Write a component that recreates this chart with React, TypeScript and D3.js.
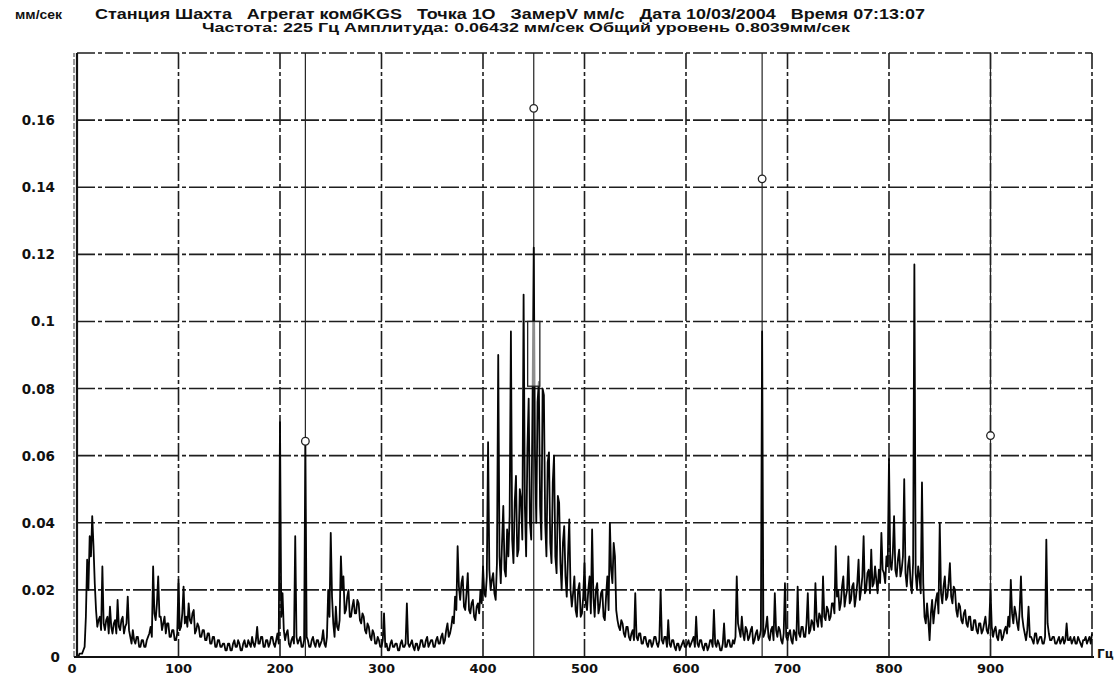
import React from "react";
import * as d3 from "d3";

const WIDTH = 1116;
const HEIGHT = 677;

// Vibration velocity spectrum, mm/s, one line every 1.25 Hz from 0 to 1000 Hz
const freqStep = 1.25;
const amplitudes: number[] = [
  // 0 – 23.75 Hz
  0.000, 0.000, 0.001, 0.001, 0.001, 0.002, 0.003, 0.012, 0.029, 0.020,
  0.036, 0.030, 0.042, 0.033, 0.022, 0.014, 0.009, 0.011, 0.012, 0.008,
  // 25 – 48.75
  0.027, 0.010, 0.008, 0.011, 0.012, 0.007, 0.015, 0.009, 0.007, 0.010,
  0.011, 0.007, 0.017, 0.009, 0.008, 0.011, 0.012, 0.007, 0.009, 0.010,
  // 50 – 73.75
  0.018, 0.008, 0.006, 0.004, 0.008, 0.005, 0.004, 0.006, 0.006, 0.003,
  0.003, 0.005, 0.005, 0.003, 0.003, 0.005, 0.006, 0.007, 0.009, 0.006,
  // 75 – 98.75
  0.027, 0.013, 0.011, 0.016, 0.024, 0.012, 0.012, 0.008, 0.010, 0.012,
  0.007, 0.010, 0.010, 0.006, 0.006, 0.008, 0.008, 0.005, 0.005, 0.007,
  // 100 – 123.75
  0.023, 0.008, 0.009, 0.013, 0.021, 0.010, 0.012, 0.009, 0.016, 0.011,
  0.010, 0.013, 0.014, 0.007, 0.008, 0.010, 0.009, 0.006, 0.006, 0.008,
  // 125 – 148.75
  0.008, 0.005, 0.005, 0.007, 0.007, 0.004, 0.004, 0.006, 0.006, 0.003,
  0.003, 0.005, 0.005, 0.003, 0.003, 0.004, 0.004, 0.002, 0.002, 0.004,
  // 150 – 173.75
  0.004, 0.002, 0.002, 0.004, 0.005, 0.003, 0.003, 0.005, 0.004, 0.002,
  0.002, 0.004, 0.005, 0.003, 0.003, 0.005, 0.004, 0.003, 0.006, 0.004,
  // 175 – 198.75
  0.003, 0.005, 0.009, 0.004, 0.004, 0.006, 0.006, 0.003, 0.003, 0.005,
  0.005, 0.003, 0.004, 0.006, 0.006, 0.004, 0.003, 0.005, 0.007, 0.004,
  // 200 – 223.75
  0.070, 0.012, 0.019, 0.008, 0.005, 0.007, 0.008, 0.004, 0.003, 0.005,
  0.006, 0.004, 0.036, 0.006, 0.004, 0.005, 0.006, 0.003, 0.003, 0.005,
  // 225 – 248.75
  0.0643, 0.006, 0.005, 0.003, 0.003, 0.005, 0.006, 0.004, 0.003, 0.005,
  0.005, 0.003, 0.004, 0.005, 0.008, 0.004, 0.003, 0.006, 0.020, 0.012,
  // 250 – 273.75
  0.037, 0.018, 0.010, 0.006, 0.015, 0.009, 0.008, 0.011, 0.030, 0.020,
  0.024, 0.013, 0.014, 0.018, 0.020, 0.012, 0.012, 0.015, 0.017, 0.013,
  // 275 – 298.75
  0.013, 0.017, 0.016, 0.011, 0.010, 0.013, 0.012, 0.008, 0.007, 0.010,
  0.009, 0.006, 0.005, 0.008, 0.007, 0.004, 0.004, 0.006, 0.005, 0.003,
  // 300 – 323.75
  0.003, 0.005, 0.013, 0.003, 0.004, 0.002, 0.002, 0.004, 0.005, 0.003,
  0.003, 0.004, 0.004, 0.002, 0.002, 0.004, 0.005, 0.003, 0.003, 0.004,
  // 325 – 348.75
  0.016, 0.004, 0.003, 0.004, 0.005, 0.003, 0.002, 0.004, 0.004, 0.002,
  0.003, 0.005, 0.005, 0.003, 0.003, 0.005, 0.006, 0.003, 0.004, 0.005,
  // 350 – 373.75
  0.005, 0.003, 0.003, 0.005, 0.006, 0.004, 0.004, 0.006, 0.007, 0.004,
  0.005, 0.008, 0.010, 0.006, 0.007, 0.009, 0.012, 0.010, 0.018, 0.014,
  // 375 – 398.75
  0.033, 0.021, 0.017, 0.022, 0.024, 0.015, 0.014, 0.019, 0.025, 0.014,
  0.013, 0.016, 0.017, 0.012, 0.011, 0.015, 0.016, 0.013, 0.020, 0.016,
  // 400 – 423.75
  0.027, 0.019, 0.018, 0.024, 0.064, 0.026, 0.020, 0.023, 0.025, 0.019,
  0.017, 0.028, 0.090, 0.030, 0.022, 0.034, 0.045, 0.026, 0.024, 0.038,
  // 425 – 448.75
  0.030, 0.042, 0.097, 0.035, 0.028, 0.046, 0.054, 0.030, 0.032, 0.050,
  0.047, 0.035, 0.108, 0.045, 0.030, 0.062, 0.077, 0.040, 0.035, 0.074,
  // 450 – 473.75
  0.122, 0.060, 0.040, 0.076, 0.082, 0.045, 0.035, 0.080, 0.078, 0.040,
  0.030, 0.058, 0.061, 0.034, 0.028, 0.052, 0.060, 0.030, 0.025, 0.048,
  // 475 – 498.75
  0.046, 0.028, 0.020, 0.034, 0.039, 0.024, 0.018, 0.030, 0.041, 0.020,
  0.015, 0.019, 0.024, 0.014, 0.012, 0.020, 0.022, 0.012, 0.013, 0.018,
  // 500 – 523.75
  0.028, 0.016, 0.014, 0.020, 0.024, 0.013, 0.038, 0.018, 0.012, 0.020,
  0.022, 0.013, 0.015, 0.019, 0.020, 0.012, 0.011, 0.018, 0.024, 0.014,
  // 525 – 548.75
  0.040, 0.026, 0.022, 0.034, 0.030, 0.014, 0.011, 0.009, 0.008, 0.011,
  0.010, 0.007, 0.006, 0.009, 0.009, 0.006, 0.005, 0.007, 0.008, 0.005,
  // 550 – 573.75
  0.019, 0.006, 0.005, 0.007, 0.007, 0.004, 0.004, 0.006, 0.006, 0.004,
  0.003, 0.005, 0.005, 0.003, 0.004, 0.006, 0.006, 0.004, 0.003, 0.005,
  // 575 – 598.75
  0.020, 0.005, 0.004, 0.006, 0.006, 0.003, 0.011, 0.004, 0.003, 0.005,
  0.005, 0.003, 0.002, 0.004, 0.004, 0.002, 0.003, 0.004, 0.005, 0.003,
  // 600 – 623.75
  0.003, 0.004, 0.005, 0.003, 0.004, 0.005, 0.006, 0.003, 0.012, 0.004,
  0.003, 0.005, 0.005, 0.003, 0.002, 0.004, 0.004, 0.002, 0.003, 0.005,
  // 625 – 648.75
  0.005, 0.003, 0.014, 0.004, 0.003, 0.005, 0.004, 0.002, 0.002, 0.004,
  0.010, 0.003, 0.003, 0.005, 0.005, 0.003, 0.003, 0.005, 0.004, 0.006,
  // 650 – 673.75
  0.024, 0.010, 0.008, 0.006, 0.012, 0.007, 0.005, 0.009, 0.008, 0.005,
  0.006, 0.008, 0.009, 0.004, 0.005, 0.007, 0.008, 0.005, 0.006, 0.008,
  // 675 – 698.75
  0.097, 0.006, 0.007, 0.009, 0.012, 0.006, 0.005, 0.008, 0.009, 0.005,
  0.019, 0.008, 0.006, 0.009, 0.008, 0.005, 0.004, 0.007, 0.022, 0.006,
  // 700 – 723.75
  0.005, 0.007, 0.008, 0.005, 0.004, 0.008, 0.007, 0.005, 0.021, 0.007,
  0.006, 0.009, 0.009, 0.006, 0.006, 0.010, 0.019, 0.007, 0.008, 0.011,
  // 725 – 748.75
  0.010, 0.008, 0.022, 0.011, 0.009, 0.013, 0.012, 0.009, 0.024, 0.012,
  0.011, 0.015, 0.014, 0.011, 0.012, 0.016, 0.016, 0.013, 0.033, 0.018,
  // 750 – 773.75
  0.020, 0.014, 0.016, 0.021, 0.024, 0.015, 0.018, 0.020, 0.030, 0.016,
  0.017, 0.021, 0.022, 0.015, 0.018, 0.022, 0.029, 0.017, 0.020, 0.024,
  // 775 – 798.75
  0.036, 0.019, 0.020, 0.025, 0.026, 0.019, 0.032, 0.021, 0.022, 0.027,
  0.023, 0.019, 0.026, 0.022, 0.037, 0.026, 0.025, 0.022, 0.030, 0.027,
  // 800 – 823.75
  0.059, 0.028, 0.026, 0.031, 0.042, 0.026, 0.024, 0.029, 0.032, 0.024,
  0.026, 0.030, 0.053, 0.025, 0.021, 0.027, 0.030, 0.022, 0.019, 0.028,
  // 825 – 848.75
  0.117, 0.025, 0.020, 0.027, 0.024, 0.019, 0.052, 0.022, 0.012, 0.010,
  0.016, 0.011, 0.005, 0.013, 0.017, 0.010, 0.014, 0.017, 0.019, 0.013,
  // 850 – 873.75
  0.040, 0.019, 0.016, 0.021, 0.024, 0.017, 0.018, 0.022, 0.028, 0.018,
  0.016, 0.021, 0.020, 0.014, 0.012, 0.016, 0.015, 0.011, 0.010, 0.013,
  // 875 – 898.75
  0.014, 0.010, 0.009, 0.012, 0.012, 0.008, 0.008, 0.011, 0.011, 0.008,
  0.007, 0.010, 0.010, 0.007, 0.008, 0.010, 0.012, 0.008, 0.007, 0.010,
  // 900 – 923.75
  0.020, 0.009, 0.006, 0.008, 0.009, 0.006, 0.005, 0.008, 0.008, 0.005,
  0.006, 0.008, 0.009, 0.007, 0.012, 0.009, 0.023, 0.013, 0.010, 0.015,
  // 925 – 948.75
  0.013, 0.010, 0.008, 0.014, 0.024, 0.012, 0.009, 0.007, 0.005, 0.008,
  0.015, 0.006, 0.006, 0.005, 0.004, 0.007, 0.007, 0.004, 0.005, 0.006,
  // 950 – 973.75
  0.006, 0.004, 0.004, 0.006, 0.035, 0.010, 0.007, 0.005, 0.005, 0.006,
  0.006, 0.004, 0.004, 0.005, 0.006, 0.004, 0.005, 0.006, 0.004, 0.005,
  // 975 – 998.75
  0.010, 0.005, 0.005, 0.006, 0.004, 0.005, 0.006, 0.004, 0.004, 0.006,
  0.005, 0.004, 0.003, 0.005, 0.005, 0.006, 0.004, 0.005, 0.006, 0.004,
  // 1000
  0.007,
];

// Axis ticks
const xTicks = [0, 100, 200, 300, 400, 500, 600, 700, 800, 900];
const xGrid = [100, 200, 300, 400, 500, 600, 700, 800, 900, 1000];
const yTicks = [0, 0.02, 0.04, 0.06, 0.08, 0.1, 0.12, 0.14, 0.16];
const yTickLabels = ["0", "0.02", "0.04", "0.06", "0.08", "0.1", "0.12", "0.14", "0.16"];
const yGrid = [0.02, 0.04, 0.06, 0.08, 0.1, 0.12, 0.14, 0.16, 0.18];

// Harmonic cursors (multiples of 225 Hz) and their marker levels
const harmonicFreqs = [225, 450, 675, 900];
const harmonicLevels = [0.0643, 0.1635, 0.1425, 0.066];

// Band box drawn around the main peak
const boxFreqs = [444, 456];
const boxLevels = [0.0807, 0.1];

const unitLabel = "мм/сек";
const freqUnit = "Гц";
const titleLine1 =
  "Станция Шахта   Агрегат комбKGS   Точка 1О   ЗамерV мм/с   Дата 10/03/2004   Время 07:13:07";
const titleLine2 =
  "Частота: 225 Гц Амплитуда: 0.06432 мм/сек Общий уровень 0.8039мм/сек";

export default function App() {
  const x = d3.scaleLinear().domain([0, 1000]).range([77, 1092]);
  const y = d3.scaleLinear().domain([0, 0.18]).range([657, 53]);

  const line = d3
    .line<number>()
    .x((_, i) => x(i * freqStep))
    .y((d) => y(d));

  const gridStroke = "#1e1e1e";
  const dash = "18,3,4,3";
  const labelFont = "'DejaVu Sans', sans-serif";
  const headFont = "'Liberation Sans', Arial, sans-serif";

  return (
    <svg
      width={WIDTH}
      height={HEIGHT}
      viewBox={`0 0 ${WIDTH} ${HEIGHT}`}
      style={{ position: "absolute", left: 0, top: 0, background: "#fff" }}
    >
      <rect x={0} y={0} width={WIDTH} height={HEIGHT} fill="#fff" />

      {/* horizontal grid */}
      {yGrid.map((v) => (
        <line
          key={`hg${v}`}
          x1={x(0)}
          x2={x(1000)}
          y1={y(v)}
          y2={y(v)}
          stroke={gridStroke}
          strokeWidth={1.6}
          strokeDasharray={dash}
        />
      ))}

      {/* vertical grid */}
      {xGrid.map((f) => (
        <line
          key={`vg${f}`}
          x1={x(f)}
          x2={x(f)}
          y1={y(0)}
          y2={y(0.18)}
          stroke={gridStroke}
          strokeWidth={1.6}
          strokeDasharray={dash}
        />
      ))}

      {/* harmonic cursor lines */}
      {harmonicFreqs.map((f) => (
        <line
          key={`hc${f}`}
          x1={x(f)}
          x2={x(f)}
          y1={y(0)}
          y2={y(0.18)}
          stroke="#222"
          strokeWidth={1.2}
        />
      ))}

      {/* spectrum */}
      <path
        d={line(amplitudes) || ""}
        fill="none"
        stroke="#050505"
        strokeWidth={1.8}
        strokeLinejoin="round"
      />

      {/* band box */}
      <rect
        x={x(boxFreqs[0])}
        y={y(boxLevels[1])}
        width={x(boxFreqs[1]) - x(boxFreqs[0])}
        height={y(boxLevels[0]) - y(boxLevels[1])}
        fill="#fff"
        fillOpacity={0.55}
        stroke="#222"
        strokeWidth={1.3}
      />

      {/* harmonic markers */}
      {harmonicFreqs.map((f, i) => (
        <circle
          key={`hm${f}`}
          cx={x(f)}
          cy={y(harmonicLevels[i])}
          r={3.8}
          fill="#fff"
          stroke="#222"
          strokeWidth={1.3}
        />
      ))}

      {/* axes */}
      <line x1={x(0)} x2={x(0)} y1={y(0)} y2={y(0.18)} stroke="#111" strokeWidth={2.2} />
      <line x1={x(0) - 3} x2={x(0) - 3} y1={y(0)} y2={y(0.18)} stroke="#333" strokeWidth={1} strokeDasharray="6,2" />
      <line x1={x(0) - 3} x2={x(1000) + 2} y1={y(0)} y2={y(0)} stroke="#111" strokeWidth={2} />

      {/* y tick labels */}
      {yTicks.map((v, i) => (
        <text
          key={`yl${v}`}
          x={v === 0 ? 60 : 55}
          y={y(v) + 5}
          textAnchor="end"
          fontFamily={labelFont}
          fontWeight="bold"
          fontSize={13.5}
          fill="#111"
        >
          {yTickLabels[i]}
        </text>
      ))}

      {/* x tick labels */}
      {xTicks.map((f) => (
        <text
          key={`xl${f}`}
          x={f === 0 ? x(f) - 5 : x(f)}
          y={673}
          textAnchor="middle"
          fontFamily={labelFont}
          fontWeight="bold"
          fontSize={13}
          fill="#111"
        >
          {f}
        </text>
      ))}
      <text x={1097} y={658} fontFamily={labelFont} fontWeight="bold" fontSize={12} fill="#111">
        {freqUnit}
      </text>

      {/* header */}
      <text
        x={15}
        y={19}
        fontFamily={headFont}
        fontWeight="bold"
        fontSize={12.5}
        fill="#111"
        textLength={47}
        lengthAdjust="spacingAndGlyphs"
      >
        {unitLabel}
      </text>
      <text
        x={95}
        y={19}
        fontFamily={headFont}
        fontWeight="bold"
        fontSize={14}
        fill="#111"
        style={{ whiteSpace: "pre" }}
        textLength={830}
        lengthAdjust="spacingAndGlyphs"
      >
        {titleLine1}
      </text>
      <text
        x={202}
        y={32}
        fontFamily={headFont}
        fontWeight="bold"
        fontSize={13.5}
        fill="#111"
        textLength={648}
        lengthAdjust="spacingAndGlyphs"
      >
        {titleLine2}
      </text>
    </svg>
  );
}
